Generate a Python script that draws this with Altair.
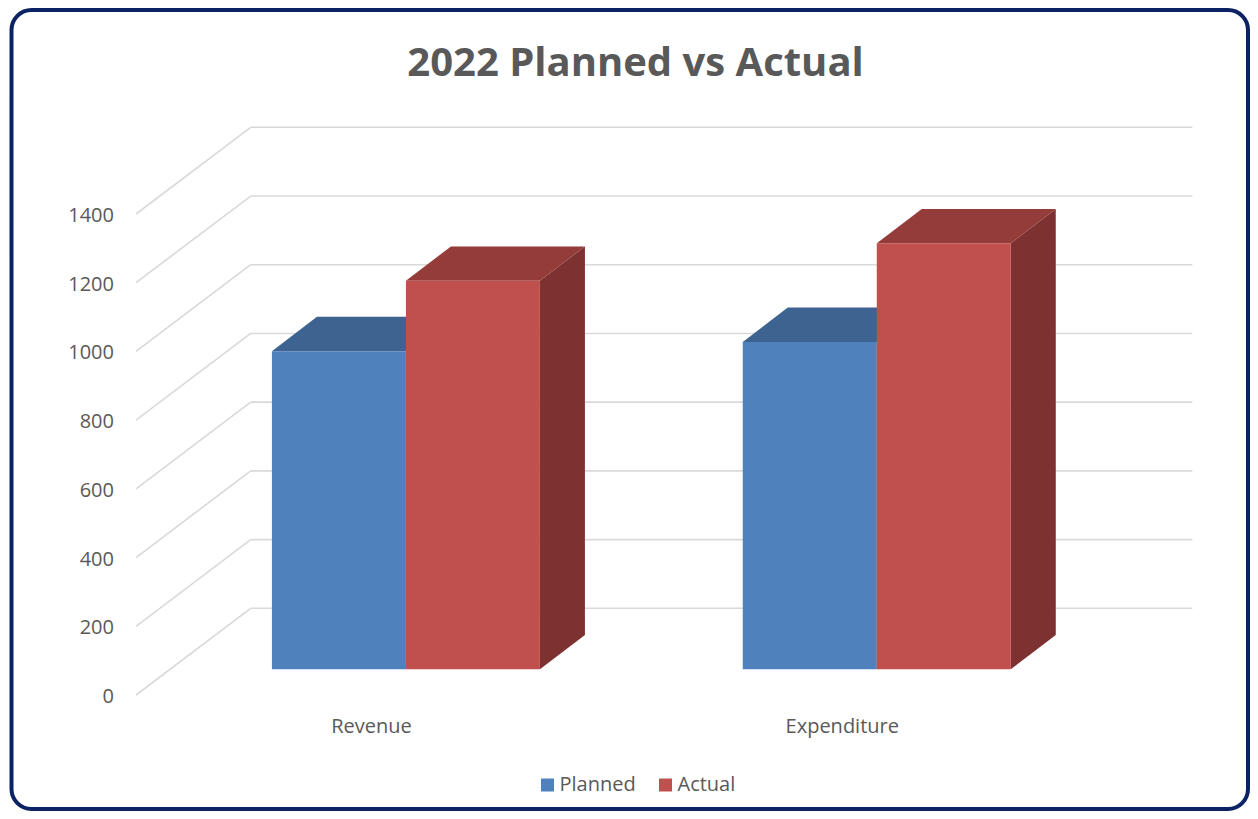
import altair as alt
import pandas as pd

# ---------------- data ----------------
title_text = "2022 Planned vs Actual"
categories = ["Revenue", "Expenditure"]
series_names = ["Planned", "Actual"]
planned = [926, 953]
actual = [1131, 1240]
ticks = [0, 200, 400, 600, 800, 1000, 1200, 1400]

front_colors = ["#4F81BD", "#C0504D"]
top_colors = ["#3D6390", "#943C3A"]
side_colors = ["#375A82", "#7D3130"]
grid_color = "#D9D9D9"
text_color = "#595959"
border_color = "#0B2265"

rows = []
for ci, cat in enumerate(categories):
    for si, (name, vals) in enumerate(zip(series_names, [planned, actual])):
        rows.append({"category": cat, "series": name, "value": vals[ci], "ci": ci, "si": si})
bars = pd.DataFrame(rows)
tick_df = pd.DataFrame({"v": ticks})
cat_df = pd.DataFrame({"category": categories, "ci": list(range(len(categories)))})

# ---------------- geometry (pseudo 3-D projection) ----------------
W, H = 1236.5, 799.0          # view (inside the rounded border)
VL, VT = 11.5, 10.0           # view origin on the page
FX, FY0 = 136.0, 695.0        # front-left corner (value 0) on the page
PX = 470.85                   # px per category band
K = 481.0 / 1400.0            # px per value unit
xdom = [(VL - FX) / PX, (VL + W - FX) / PX]
ydom = [(FY0 - (VT + H)) / K, (FY0 - VT) / K]

DXu, DYu = 114.7 / PX, 86.7 / K      # full depth of the box
BW = 134.0 / PX                      # bar width
OFFX, OFFY = 34.5 / PX, 25.7 / K     # bar front plane offset
BDX, BDY = 45.0 / PX, 34.3 / K       # bar depth

xs = alt.Scale(domain=xdom, nice=False, zero=False)
ys = alt.Scale(domain=ydom, nice=False, zero=False)

# back wall gridlines
back = alt.Chart(tick_df).transform_calculate(
    xa=f"{DXu}", xb=f"{len(categories)}+{DXu}", yb=f"datum.v+{DYu}"
).mark_rule(color=grid_color, strokeWidth=1.6).encode(
    x=alt.X("xa:Q", scale=xs, axis=None),
    x2="xb:Q",
    y=alt.Y("yb:Q", scale=ys, axis=None),
)

# side wall diagonals
diag = alt.Chart(tick_df).transform_calculate(
    xa="0", xb=f"{DXu}", yb=f"datum.v+{DYu}"
).mark_rule(color=grid_color, strokeWidth=1.6).encode(
    x=alt.X("xa:Q", scale=xs, axis=None),
    x2="xb:Q",
    y=alt.Y("v:Q", scale=ys, axis=None),
    y2="yb:Q",
)

# value labels
tick_labels = alt.Chart(tick_df).transform_calculate(xa="0").mark_text(
    align="right", baseline="middle", dx=-22, dy=2,
    font="Open Sans", fontSize=20, color=text_color,
).encode(
    x=alt.X("xa:Q", scale=xs, axis=None),
    y=alt.Y("v:Q", scale=ys, axis=None),
    text=alt.Text("v:Q"),
)

x0_expr = f"datum.ci+0.5-{BW}+datum.si*{BW}+{OFFX}"

# side faces
side = alt.Chart(bars).transform_calculate(k="[0,1]").transform_flatten(["k"]).transform_calculate(
    xx=f"{x0_expr}+{BW}+datum.k*{BDX}",
    yu=f"{OFFY}+datum.value+datum.k*{BDY}",
    yl=f"{OFFY}+datum.k*{BDY}",
    key="datum.category+'-'+datum.series",
).mark_area(opacity=1).encode(
    x=alt.X("xx:Q", scale=xs, axis=None),
    y=alt.Y("yu:Q", scale=ys, axis=None),
    y2="yl:Q",
    detail="key:N",
    color=alt.Color("series:N", scale=alt.Scale(domain=series_names, range=side_colors), legend=None),
)

# top faces
top = alt.Chart(bars).transform_calculate(k="[0,1,2,3]").transform_flatten(["k"]).transform_calculate(
    xx=f"{x0_expr}+((datum.k==1||datum.k==3)?{BDX}:0)+(datum.k>=2?{BW}:0)",
    yu=f"{OFFY}+datum.value+(datum.k==0?0:{BDY})",
    yl=f"{OFFY}+datum.value+(datum.k==3?{BDY}:0)",
    key="datum.category+'-'+datum.series",
).mark_area(opacity=1).encode(
    x=alt.X("xx:Q", scale=xs, axis=None),
    y=alt.Y("yu:Q", scale=ys, axis=None),
    y2="yl:Q",
    detail="key:N",
    color=alt.Color("series:N", scale=alt.Scale(domain=series_names, range=top_colors), legend=None),
)

# front faces
front = alt.Chart(bars).transform_calculate(
    xa=x0_expr, xb=f"{x0_expr}+{BW}", yb=f"{OFFY}", yt=f"{OFFY}+datum.value",
).mark_rect().encode(
    x=alt.X("xa:Q", scale=xs, axis=None),
    x2="xb:Q",
    y=alt.Y("yb:Q", scale=ys, axis=None),
    y2="yt:Q",
    color=alt.Color(
        "series:N",
        scale=alt.Scale(domain=series_names, range=front_colors),
        legend=alt.Legend(
            orient="none", legendX=526, legendY=765, direction="horizontal",
            title=None, symbolType="square", symbolSize=169, symbolStrokeWidth=0,
            labelFont="Open Sans", labelFontSize=20, labelColor=text_color,
            labelOffset=2, columnPadding=19, padding=0,
        ),
    ),
)

# category labels
cat_labels = alt.Chart(cat_df).transform_calculate(xc="datum.ci+0.5").mark_text(
    align="center", baseline="middle", font="Open Sans", fontSize=20, color=text_color,
).encode(
    x=alt.X("xc:Q", scale=xs, axis=None),
    y=alt.value(717),
    text="category:N",
)

title = alt.Chart(pd.DataFrame({"t": [title_text]})).mark_text(
    align="center", baseline="alphabetic", font="Open Sans", fontSize=40,
    fontWeight="bold", color=text_color,
).encode(x=alt.value(624), y=alt.value(66), text="t:N")

chart = alt.layer(back, diag, tick_labels, side, top, front, cat_labels, title).resolve_scale(
    color="independent"
).properties(
    width=W, height=H,
    padding={"left": 3.5, "top": 2, "right": 2, "bottom": 2},
    autosize=alt.AutoSizeParams(type="none"),
    background="white",
).configure_view(
    stroke=border_color, strokeWidth=4, cornerRadius=20, fill="white",
)

chart.save("out.html", embed_options={"renderer": "svg", "actions": False})
